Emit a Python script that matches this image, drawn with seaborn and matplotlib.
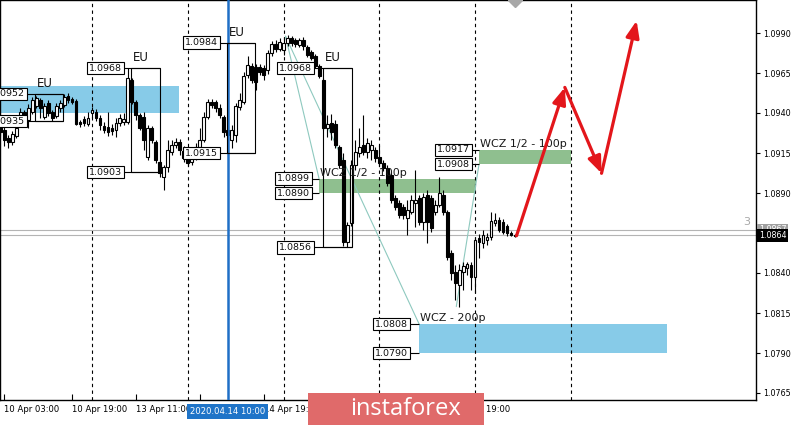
import matplotlib
matplotlib.use("Agg")
import matplotlib.pyplot as plt
import matplotlib.transforms as mtransforms
from matplotlib.patches import Rectangle
import numpy as np
import pandas as pd
import seaborn as sns

sns.set_theme(style="white")
plt.rcParams['font.family'] = ['DejaVu Sans']

# ---------------- data (H1 EURUSD, bar 0 = 13 Apr 00:00) ----------------
bar_index = list(range(-23, 107))
opens = [
    1.09319, 1.09294, 1.09244, 1.09219, 1.09256, 1.09331, 1.09406, 1.09356, 1.09406, 1.09444,
    1.09481, 1.09375, 1.09462, 1.09406, 1.09381, 1.09431, 1.09450, 1.09506, 1.09487, 1.09475,
    1.09344, 1.09362, 1.09331, 1.09400, 1.09406, 1.09369, 1.09319, 1.09312, 1.09306, 1.09294,
    1.09337, 1.09344, 1.09344, 1.09606, 1.09469, 1.09387, 1.09375, 1.09125, 1.09306, 1.09219,
    1.09094, 1.09000, 1.09062, 1.09156, 1.09200, 1.09219, 1.09162, 1.09125, 1.09094, 1.09125,
    1.09187, 1.09231, 1.09375, 1.09469, 1.09469, 1.09431, 1.09375, 1.09294, 1.09231, 1.09262,
    1.09437, 1.09469, 1.09637, 1.09694, 1.09687, 1.09687, 1.09681, 1.09669, 1.09775, 1.09831,
    1.09800, 1.09794, 1.09837, 1.09869, 1.09856, 1.09825, 1.09856, 1.09812, 1.09781, 1.09756,
    1.09694, 1.09606, 1.09306, 1.09337, 1.09331, 1.09187, 1.09106, 1.08594, 1.08712, 1.09075,
    1.09150, 1.09200, 1.09156, 1.09169, 1.09169, 1.09125, 1.09087, 1.09056, 1.09012, 1.08869,
    1.08837, 1.08812, 1.08744, 1.08781, 1.08837, 1.08869, 1.08719, 1.08887, 1.08869, 1.08781,
    1.08825, 1.08887, 1.08781, 1.08525, 1.08406, 1.08325, 1.08406, 1.08431, 1.08450, 1.08375,
    1.08619, 1.08587, 1.08606, 1.08625, 1.08712, 1.08731, 1.08719, 1.08694, 1.08650, 1.08637,
]
highs = [
    1.09344, 1.09312, 1.09262, 1.09287, 1.09331, 1.09431, 1.09419, 1.09456, 1.09500, 1.09506,
    1.09494, 1.09462, 1.09481, 1.09419, 1.09462, 1.09481, 1.09519, 1.09525, 1.09500, 1.09487,
    1.09356, 1.09381, 1.09406, 1.09437, 1.09425, 1.09387, 1.09344, 1.09406, 1.09331, 1.09369,
    1.09394, 1.09400, 1.09681, 1.09619, 1.09481, 1.09400, 1.09406, 1.09325, 1.09319, 1.09231,
    1.09106, 1.09075, 1.09231, 1.09231, 1.09244, 1.09237, 1.09194, 1.09169, 1.09169, 1.09212,
    1.09306, 1.09406, 1.09487, 1.09487, 1.09481, 1.09456, 1.09387, 1.09319, 1.09325, 1.09462,
    1.09525, 1.09656, 1.09756, 1.09712, 1.09706, 1.09706, 1.09700, 1.09794, 1.09850, 1.09856,
    1.09869, 1.09875, 1.09887, 1.09881, 1.09869, 1.09869, 1.09875, 1.09825, 1.09794, 1.09769,
    1.09706, 1.09619, 1.09387, 1.09394, 1.09356, 1.09200, 1.09150, 1.08719, 1.09106, 1.09231,
    1.09306, 1.09387, 1.09244, 1.09231, 1.09187, 1.09200, 1.09106, 1.09075, 1.09031, 1.08887,
    1.08856, 1.08831, 1.08856, 1.08887, 1.09044, 1.08887, 1.08900, 1.08919, 1.08887, 1.08856,
    1.09000, 1.08919, 1.08794, 1.08544, 1.08450, 1.08456, 1.08469, 1.08469, 1.08469, 1.08625,
    1.08644, 1.08669, 1.08650, 1.08781, 1.08775, 1.08750, 1.08737, 1.08706, 1.08662, 1.08644,
]
lows = [
    1.09256, 1.09194, 1.09181, 1.09200, 1.09244, 1.09319, 1.09344, 1.09306, 1.09394, 1.09431,
    1.09369, 1.09362, 1.09381, 1.09350, 1.09369, 1.09406, 1.09437, 1.09462, 1.09456, 1.09325,
    1.09312, 1.09319, 1.09319, 1.09369, 1.09350, 1.09294, 1.09275, 1.09256, 1.09262, 1.09250,
    1.09319, 1.09325, 1.09331, 1.09456, 1.09356, 1.09294, 1.09169, 1.09106, 1.09212, 1.09087,
    1.09000, 1.08919, 1.09031, 1.09137, 1.09181, 1.09137, 1.09094, 1.09069, 1.09075, 1.09106,
    1.09169, 1.09219, 1.09362, 1.09431, 1.09406, 1.09369, 1.09250, 1.09231, 1.09181, 1.09219,
    1.09419, 1.09456, 1.09619, 1.09587, 1.09544, 1.09637, 1.09606, 1.09644, 1.09756, 1.09781,
    1.09787, 1.09762, 1.09819, 1.09819, 1.09812, 1.09812, 1.09794, 1.09750, 1.09731, 1.09681,
    1.09619, 1.09294, 1.09250, 1.09231, 1.09181, 1.09056, 1.08569, 1.08562, 1.08694, 1.09044,
    1.09125, 1.09137, 1.09119, 1.09106, 1.09094, 1.09069, 1.09037, 1.08944, 1.08837, 1.08794,
    1.08744, 1.08737, 1.08637, 1.08769, 1.08687, 1.08700, 1.08669, 1.08587, 1.08656, 1.08762,
    1.08812, 1.08762, 1.08481, 1.08356, 1.08231, 1.08187, 1.08294, 1.08387, 1.08294, 1.08275,
    1.08494, 1.08556, 1.08575, 1.08606, 1.08694, 1.08656, 1.08644, 1.08631, 1.08631, 1.08625,
]
closes = [
    1.09281, 1.09231, 1.09219, 1.09269, 1.09306, 1.09406, 1.09369, 1.09431, 1.09481, 1.09494,
    1.09431, 1.09444, 1.09400, 1.09369, 1.09444, 1.09462, 1.09500, 1.09481, 1.09469, 1.09331,
    1.09331, 1.09337, 1.09369, 1.09419, 1.09369, 1.09325, 1.09294, 1.09281, 1.09287, 1.09337,
    1.09369, 1.09362, 1.09619, 1.09469, 1.09387, 1.09306, 1.09231, 1.09306, 1.09231, 1.09106,
    1.09025, 1.09062, 1.09169, 1.09200, 1.09219, 1.09169, 1.09119, 1.09087, 1.09137, 1.09187,
    1.09231, 1.09375, 1.09469, 1.09450, 1.09431, 1.09387, 1.09281, 1.09262, 1.09294, 1.09444,
    1.09481, 1.09631, 1.09700, 1.09606, 1.09594, 1.09656, 1.09637, 1.09775, 1.09831, 1.09800,
    1.09844, 1.09837, 1.09869, 1.09837, 1.09831, 1.09856, 1.09819, 1.09762, 1.09744, 1.09694,
    1.09631, 1.09306, 1.09331, 1.09281, 1.09200, 1.09075, 1.08594, 1.08700, 1.09075, 1.09156,
    1.09187, 1.09156, 1.09212, 1.09200, 1.09119, 1.09087, 1.09056, 1.08962, 1.08856, 1.08812,
    1.08762, 1.08762, 1.08794, 1.08856, 1.08856, 1.08719, 1.08875, 1.08719, 1.08681, 1.08825,
    1.08900, 1.08781, 1.08500, 1.08400, 1.08337, 1.08419, 1.08444, 1.08456, 1.08375, 1.08606,
    1.08594, 1.08637, 1.08625, 1.08725, 1.08731, 1.08669, 1.08656, 1.08650, 1.08637, 1.08631,
]

y_ticks = [1.0765, 1.0790, 1.0815, 1.0840, 1.0865, 1.0890, 1.0915, 1.0940, 1.0965, 1.0990]
y_tick_labels = ["1.0765", "1.0790", "1.0815", "1.0840", "", "1.0890", "1.0915",
                 "1.0940", "1.0965", "1.0990"]
# time-axis labels; the ones covered by the cursor label / watermark are left blank
x_tick_pos = [-22, -5, 11, 27, 43, 59, 75, 91]
x_tick_labels = ["10 Apr 03:00", "10 Apr 19:00", "13 Apr 11:00", "",
                 "14 Apr 19:00", "", "", "16 Apr 19:00"]
day_separators = [0, 24, 48, 72, 96, 120]
cursor_bar = 34
cursor_label = "2020.04.14 10:00"

# EU session boxes
eu_start = [-14.25, 9.75, 33.75, 57.9]
eu_end = [-7.25, 17.0, 40.9, 65.2]
eu_high = [1.0952, 1.0968, 1.0984, 1.0968]
eu_low = [1.0935, 1.0903, 1.0915, 1.0856]
eu_label_x = [-16.8, 7.5, 31.6, 55.1]

# zones
zone_start = [-24.0, 56.9, 97.0, 82.0]
zone_end = [21.8, 96.2, 120.0, 144.1]
zone_low = [1.0940, 1.0890, 1.0908, 1.0790]
zone_high = [1.0957, 1.0899, 1.0917, 1.0808]
zone_color = ["#87cbe8", "#8fbf8f", "#8fbf8f", "#87cbe8"]
zone_label_x = [None, 54.6, 94.7, 79.2]
zone_text = [None, "WCZ 1/2 - 100p", "WCZ 1/2 - 100p", "WCZ - 200p"]

# thin guide lines
diag_x = [[48.5, 56.9], [48.5, 82.0], [97.0, 91.3]]
diag_y = [[1.0988, 1.0899], [1.0988, 1.0808], [1.0908, 1.0819]]

# forecast arrows
arrow_x = [106.4, 118.5, 127.7, 136.5]
arrow_y = [1.08633, 1.09560, 1.09023, 1.09977]

bid_price = 1.08635
ask_price = 1.0867

# ---------------- figure ----------------
W, H = 792, 425
fig = plt.figure(figsize=(W / 100, H / 100), dpi=100)
fig.patch.set_facecolor("white")
ax = fig.add_axes([0, 25 / H, 756 / W, 400 / H])
ax.set_facecolor("white")
PX = 3.99
ax.set_xlim(-92 / PX, (756 - 92) / PX)
ax.set_ylim(1.0760625, 1.1010625)

df = pd.DataFrame(dict(t=bar_index, o=opens, h=highs, l=lows, c=closes))
up = df.c >= df.o

# zones
for s, e, lo, hi, col in zip(zone_start, zone_end, zone_low, zone_high, zone_color):
    ax.add_patch(Rectangle((s, lo), e - s, hi - lo, facecolor=col, edgecolor="none", zorder=1))

# separators
for d in day_separators:
    ax.axvline(d, color="black", lw=0.8, ls=(0, (3, 3)), zorder=2)

# price lines
ax.axhline(ask_price, color="#b4b4b4", lw=0.8, zorder=2)
ax.axhline(bid_price, color="#b4b4b4", lw=0.8, zorder=2)

# diagonals
for xs, ys in zip(diag_x, diag_y):
    ax.plot(xs, ys, color="#8ec9bf", lw=0.8, zorder=2)

# candles
ax.vlines(df.t, df.l, df.h, color="black", lw=0.8, zorder=3)
ax.bar(df.t[up], (df.c - df.o)[up], bottom=df.o[up], width=0.72,
       color="white", edgecolor="black", linewidth=0.8, zorder=4)
ax.bar(df.t[~up], (df.o - df.c)[~up], bottom=df.c[~up], width=0.72,
       color="black", edgecolor="black", linewidth=0.8, zorder=4)

# cursor line
ax.axvline(cursor_bar, color="#1f6fc6", lw=1.8, zorder=5)


def price_box(x, y, s):
    ax.text(x, y, s, ha="right", va="center", fontsize=6.8, color="#111111", zorder=9,
            bbox=dict(boxstyle="square,pad=0.18", fc="white", ec="black", lw=0.8))


# EU boxes
eu_off = mtransforms.offset_copy(ax.transData, fig=fig, x=2, y=4, units="dots")
for s, e, hi, lo, lx in zip(eu_start, eu_end, eu_high, eu_low, eu_label_x):
    ax.add_patch(Rectangle((s, lo), e - s, hi - lo, facecolor="none", edgecolor="black",
                           lw=0.8, zorder=6))
    ax.hlines([hi, lo], lx, e, color="black", lw=0.8, zorder=6)
    price_box(lx, hi, f"{hi:.4f}")
    price_box(lx, lo, f"{lo:.4f}")
    ax.text(s, hi, "EU", transform=eu_off, ha="left", va="bottom", fontsize=8.5,
            color="#111111", zorder=9)

# zone labels
z_off = mtransforms.offset_copy(ax.transData, fig=fig, x=1, y=1, units="dots")
for s, lo, hi, lx, txt in zip(zone_start, zone_low, zone_high, zone_label_x, zone_text):
    if lx is None:
        continue
    ax.hlines([hi, lo], lx, s, color="black", lw=0.8, zorder=6)
    price_box(lx, hi, f"{hi:.4f}")
    price_box(lx, lo, f"{lo:.4f}")
    ax.text(s, hi, txt, transform=z_off, ha="left", va="bottom", fontsize=8,
            color="#1a1a1a", zorder=9)

# red forecast arrows
for k in range(len(arrow_x) - 1):
    ax.annotate("", xy=(arrow_x[k + 1], arrow_y[k + 1]), xytext=(arrow_x[k], arrow_y[k]),
                arrowprops=dict(arrowstyle="-|>,head_length=1.0,head_width=0.4",
                                color="#e3161b", lw=2.3, shrinkA=0, shrinkB=0,
                                mutation_scale=10),
                zorder=10)

# small marks
ax.text(164.2, 1.0872, "3", color="#a8a8a8", fontsize=8, ha="center", va="center", zorder=9)
ax.plot([106], [1.1010625], marker="D", ms=7, color="#a8a8a8", zorder=9, clip_on=True)

# axes styling
for sp in ax.spines.values():
    sp.set_visible(True)
    sp.set_color("black")
    sp.set_linewidth(1.0)
ax.grid(False)
ax.yaxis.tick_right()
ax.set_yticks(y_ticks)
ax.set_yticklabels(y_tick_labels)
ax.tick_params(axis="y", direction="out", length=3, width=0.8, pad=2, labelsize=5.8,
               colors="black", right=True, left=False)
ax.set_xticks(x_tick_pos)
ax.set_xticklabels(x_tick_labels, ha="left")
ax.tick_params(axis="x", direction="in", length=4, width=0.8, pad=3.5, labelsize=6.1,
               colors="black", bottom=True)

# right price boxes
bt = mtransforms.blended_transform_factory(ax.transAxes, ax.transData)
ax.text(1.004, ask_price, f"{ask_price:.4f}", transform=bt, ha="left", va="center",
        fontsize=5.8, color="white", zorder=11, clip_on=False,
        bbox=dict(boxstyle="square,pad=0.2", fc="#a0a0a0", ec="none"))
ax.text(1.004, bid_price, "1.0864", transform=bt, ha="left", va="center",
        fontsize=5.8, color="white", zorder=12, clip_on=False,
        bbox=dict(boxstyle="square,pad=0.2", fc="black", ec="none"))

# cursor time label
xt = mtransforms.blended_transform_factory(ax.transData, ax.transAxes)
ax.text(cursor_bar, -0.028, cursor_label, transform=xt, ha="center", va="center",
        fontsize=6.1, color="white", zorder=12, clip_on=False,
        bbox=dict(boxstyle="square,pad=0.35", fc="#1f74c8", ec="none"))

# watermark logo
fig.add_artist(Rectangle((308 / W, 0), 176 / W, 32 / H, transform=fig.transFigure,
                         facecolor="#e06a6a", edgecolor="none", zorder=20))
fig.text(406 / W, 16 / H, "instaforex", ha="center", va="center", color="white",
         fontsize=17, family=["Open Sans", "DejaVu Sans"], zorder=21)

fig.savefig("out.png", dpi=100, facecolor="white")
